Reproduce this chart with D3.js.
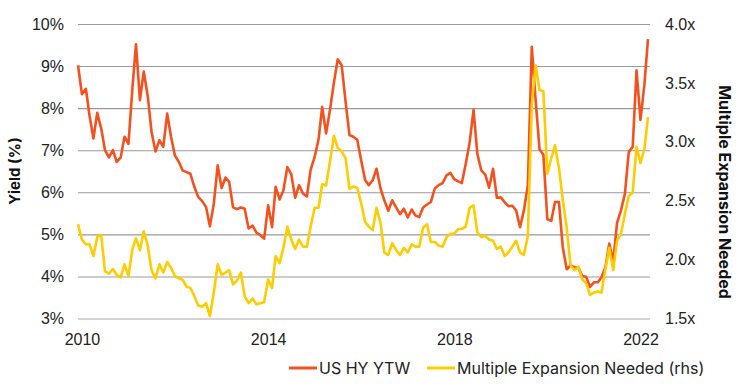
<!DOCTYPE html>
<html>
<head>
<meta charset="utf-8">
<script src="https://cdn.jsdelivr.net/npm/d3@7"></script>
<style>
  html, body { margin: 0; padding: 0; background: #fff; }
  svg { display: block; font-family: Inter, "Noto Sans", sans-serif; }
</style>
</head>
<body>
<svg id="chart" width="740" height="390"></svg>
<script>
// ---- Data (monthly, Dec 2009 – Mar 2022) ----
const startMonth = new Date(2009, 11, 1);
const endMonthExclusive = new Date(2022, 3, 1);

const hyYtw = [
  9.02, 8.33, 8.46, 7.83, 7.28, 7.89, 7.52, 7.00, 6.83, 7.00,
  6.72, 6.83, 7.32, 7.15, 8.47, 9.52, 8.19, 8.87, 8.29, 7.44,
  6.97, 7.24, 7.08, 7.87, 7.32, 6.87, 6.72, 6.52, 6.48, 6.44,
  6.13, 5.89, 5.79, 5.65, 5.19, 5.73, 6.64, 6.10, 6.35, 6.25,
  5.64, 5.60, 5.64, 5.61, 5.14, 5.21, 5.04, 4.98, 4.90, 5.69,
  5.17, 6.13, 5.83, 6.05, 6.60, 6.44, 5.87, 6.17, 5.97, 5.90,
  6.54, 6.84, 7.26, 8.03, 7.40, 7.95, 8.60, 9.16, 9.02, 8.15,
  7.36, 7.32, 7.25, 6.76, 6.29, 6.17, 6.29, 6.56, 6.09, 5.81,
  5.56, 5.81, 5.64, 5.48, 5.61, 5.40, 5.59, 5.45, 5.41, 5.64,
  5.71, 5.77, 6.09, 6.17, 6.22, 6.40, 6.46, 6.31, 6.26, 6.22,
  6.68, 7.18, 7.96, 6.91, 6.52, 6.42, 6.11, 6.56, 5.87, 5.88,
  5.76, 5.67, 5.68, 5.57, 5.17, 5.57, 6.16, 9.46, 8.20, 7.02,
  6.89, 5.36, 5.32, 5.77, 5.77, 4.70, 4.17, 4.26, 4.22, 4.21,
  4.01, 3.99, 3.75, 3.86, 3.86, 3.98, 4.22, 4.78, 4.35, 5.27,
  5.57, 5.97, 6.96, 7.08, 8.90, 7.72, 8.57, 9.64
];

const multipleNeeded = [
  2.30, 2.17, 2.13, 2.13, 2.03, 2.19, 2.21, 1.90, 1.88, 1.92,
  1.87, 1.85, 1.96, 1.86, 2.09, 2.18, 2.08, 2.24, 2.12, 1.91,
  1.84, 1.96, 1.89, 1.98, 1.93, 1.86, 1.84, 1.83, 1.77, 1.76,
  1.69, 1.61, 1.60, 1.63, 1.52, 1.72, 1.96, 1.87, 1.89, 1.91,
  1.79, 1.82, 1.89, 1.69, 1.63, 1.67, 1.62, 1.63, 1.64, 1.83,
  1.76, 2.03, 1.97, 2.10, 2.28, 2.17, 2.09, 2.17, 2.11, 2.11,
  2.28, 2.44, 2.44, 2.64, 2.63, 2.83, 3.05, 2.95, 2.92, 2.86,
  2.60, 2.62, 2.61, 2.48, 2.32, 2.28, 2.25, 2.44, 2.31, 2.06,
  2.04, 2.14, 2.08, 2.04, 2.10, 2.06, 2.13, 2.11, 2.11, 2.27,
  2.30, 2.15, 2.15, 2.12, 2.11, 2.19, 2.22, 2.22, 2.26, 2.26,
  2.28, 2.44, 2.46, 2.23, 2.19, 2.20, 2.17, 2.16, 2.09, 2.11,
  2.03, 2.06, 2.11, 2.16, 2.06, 2.04, 2.20, 3.31, 3.65, 3.44,
  3.43, 2.73, 2.86, 2.97, 2.78, 2.51, 2.27, 1.95, 1.91, 1.94,
  1.83, 1.80, 1.70, 1.72, 1.73, 1.72, 1.92, 2.10, 1.91, 2.16,
  2.22, 2.39, 2.54, 2.57, 2.96, 2.82, 2.94, 3.21
];

const yearTicks = [2010, 2014, 2018, 2022];
const leftTicks = [3, 4, 5, 6, 7, 8, 9, 10];
const rightTicks = [1.5, 2.0, 2.5, 3.0, 3.5, 4.0];
const seriesNames = ["US HY YTW", "Multiple Expansion Needed (rhs)"];
const seriesColors = ["#f4511e", "#ffcc00"];
const leftTitle = "Yield (%)";
const rightTitle = "Multiple Expansion Needed";

// ---- Layout ----
const months = d3.timeMonth.range(startMonth, endMonthExclusive);
const plotLeft = 78, plotRight = 650, lineRight = 648, plotTop = 24, plotBottom = 318.5;

const svg = d3.select("#chart");

const x = d3.scaleTime().domain([months[0], months[months.length - 1]]).range([plotLeft, lineRight]);
const yL = d3.scaleLinear().domain([3, 10]).range([plotBottom, plotTop]);
const yR = d3.scaleLinear().domain([1.5, 4]).range([plotBottom, plotTop]);

// Left axis with gridlines
const gL = svg.append("g")
  .attr("transform", `translate(${plotLeft},0)`)
  .call(d3.axisLeft(yL).tickValues(leftTicks).tickSize(-(plotRight - plotLeft)).tickPadding(14).tickFormat(d => d + "%"));
gL.select(".domain").remove();
gL.selectAll(".tick line")
  .attr("stroke", d => d === 3 ? "#c4c4c4" : "#9a9a9a")
  .attr("stroke-width", d => d === 3 ? 1.5 : 1.1);
gL.selectAll(".tick text").attr("fill", "#222").style("font-size", "16px");

// Right axis
const gR = svg.append("g")
  .attr("transform", `translate(${plotRight},0)`)
  .call(d3.axisRight(yR).tickValues(rightTicks).tickSize(0).tickPadding(15).tickFormat(d => d3.format(".1f")(d) + "x"));
gR.select(".domain").remove();
gR.selectAll(".tick text").attr("fill", "#222").style("font-size", "16px");

// Bottom axis
const gB = svg.append("g")
  .attr("transform", `translate(0,${plotBottom})`)
  .call(d3.axisBottom(x).tickValues(yearTicks.map(y => new Date(y, 0, 1))).tickSize(0).tickPadding(15).tickFormat(d3.timeFormat("%Y")));
gB.select(".domain").remove();
gB.selectAll(".tick text").attr("fill", "#222").style("font-size", "16px");

// Lines
const lineL = d3.line().x((d, i) => x(months[i])).y(d => yL(d)).curve(d3.curveLinear);
const lineR = d3.line().x((d, i) => x(months[i])).y(d => yR(d)).curve(d3.curveLinear);

svg.append("path").datum(hyYtw)
  .attr("d", lineL).attr("fill", "none")
  .attr("stroke", seriesColors[0]).attr("stroke-width", 2.6)
  .attr("stroke-linejoin", "round");

svg.append("path").datum(multipleNeeded)
  .attr("d", lineR).attr("fill", "none")
  .attr("stroke", seriesColors[1]).attr("stroke-width", 2.6)
  .attr("stroke-linejoin", "round");

// Axis titles
svg.append("text")
  .attr("transform", `translate(20,171) rotate(-90)`)
  .attr("text-anchor", "middle")
  .style("font-size", "15px").style("font-weight", "700").attr("fill", "#111")
  .text(leftTitle);

svg.append("text")
  .attr("transform", `translate(719,192) rotate(90)`)
  .attr("text-anchor", "middle")
  .style("font-size", "16px").style("font-weight", "700").attr("fill", "#111")
  .text(rightTitle);

// Legend
const legendItems = [
  { x: 289, name: seriesNames[0], color: seriesColors[0] },
  { x: 427, name: seriesNames[1], color: seriesColors[1] }
];
const lg = svg.append("g");
legendItems.forEach(it => {
  lg.append("line")
    .attr("x1", it.x).attr("x2", it.x + 28)
    .attr("y1", 368).attr("y2", 368)
    .attr("stroke", it.color).attr("stroke-width", 3);
  lg.append("text")
    .attr("x", it.x + 30).attr("y", 368).attr("dy", "0.36em")
    .style("font-size", "16px").attr("fill", "#222")
    .text(it.name);
});
</script>
</body>
</html>
